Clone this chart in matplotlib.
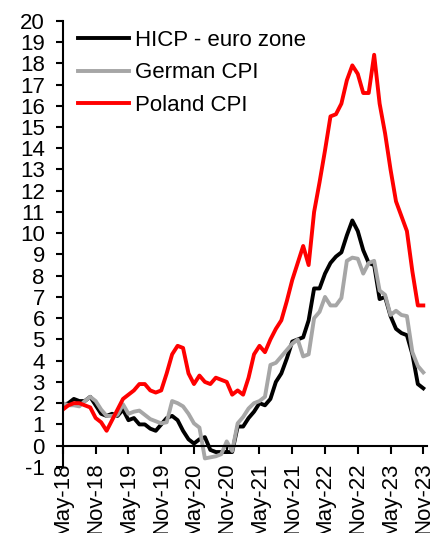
import matplotlib
matplotlib.use("Agg")
import matplotlib.pyplot as plt
import numpy as np

plt.rcParams.update({
    "font.family": ["Liberation Sans", "DejaVu Sans"], "font.size": 16,
    "axes.linewidth": 1.5, "axes.unicode_minus": False,
})

# monthly y/y inflation, May-18 .. Nov-23
hicp = [1.9, 2.0, 2.2, 2.1, 2.1, 2.3, 1.9, 1.5,
        1.4, 1.5, 1.4, 1.7, 1.2, 1.3, 1.0, 1.0, 0.8, 0.7, 1.0, 1.3,
        1.4, 1.2, 0.7, 0.3, 0.1, 0.3, 0.4, -0.2, -0.3, -0.3, -0.3, -0.3,
        0.9, 0.9, 1.3, 1.6, 2.0, 1.9, 2.2, 3.0, 3.4, 4.1, 4.9, 5.0,
        5.1, 5.9, 7.4, 7.4, 8.1, 8.6, 8.9, 9.1, 9.9, 10.6, 10.1, 9.2,
        8.6, 8.5, 6.9, 7.0, 6.1, 5.5, 5.3, 5.2, 4.3, 2.9, 2.7]
german = [2.0, 1.9, 1.9, 1.85, 2.1, 2.3, 2.1, 1.7,
          1.4, 1.4, 1.45, 1.95, 1.5, 1.6, 1.65, 1.45, 1.25, 1.15, 1.05, 1.1,
          2.1, 2.0, 1.85, 1.5, 1.05, 0.85, -0.6, -0.55, -0.5, -0.4, 0.2, -0.25,
          1.05, 1.35, 1.75, 2.0, 2.1, 2.3, 3.8, 3.9, 4.2, 4.5, 4.8, 5.0,
          4.2, 4.3, 6.0, 6.3, 7.0, 6.6, 6.6, 6.95, 8.7, 8.85, 8.8, 8.1,
          8.6, 8.7, 7.3, 7.1, 6.15, 6.35, 6.15, 6.1, 4.4, 3.75, 3.45]
poland = [1.7, 1.9, 2.0, 2.0, 1.9, 1.8, 1.3, 1.1,
          0.7, 1.2, 1.7, 2.2, 2.4, 2.6, 2.9, 2.9, 2.6, 2.5, 2.6, 3.4,
          4.3, 4.7, 4.6, 3.4, 2.9, 3.3, 3.0, 2.9, 3.2, 3.1, 3.0, 2.4,
          2.6, 2.4, 3.2, 4.3, 4.7, 4.4, 5.0, 5.5, 5.9, 6.8, 7.8, 8.6,
          9.4, 8.5, 11.0, 12.4, 13.9, 15.5, 15.6, 16.1, 17.2, 17.9, 17.5, 16.6,
          16.6, 18.4, 16.1, 14.7, 13.0, 11.5, 10.8, 10.1, 8.2, 6.6, 6.6]
tick_labels = ["May-18", "Nov-18", "May-19", "Nov-19", "May-20", "Nov-20",
               "May-21", "Nov-21", "May-22", "Nov-22", "May-23", "Nov-23"]

x = np.arange(len(hicp))

fig = plt.figure(figsize=(4.31, 5.33), dpi=100)
ax = fig.add_axes([0.146, 0.124, 0.845, 0.837])

ax.plot(x, hicp, color="black", lw=2.8, label="HICP - euro zone")
ax.plot(x, german, color="#A6A6A6", lw=2.8, label="German CPI")
ax.plot(x, poland, color="#FF0000", lw=2.8, label="Poland CPI")

ax.set_ylim(-1, 20)
ax.set_yticks(range(-1, 21))
ax.set_xlim(0, 66.7)
ax.set_xticks(np.arange(0, 67, 6))
ax.set_xticklabels(tick_labels)

ax.spines["top"].set_visible(False)
ax.spines["right"].set_visible(False)
ax.spines["bottom"].set_position(("data", 0))
ax.tick_params(axis="y", direction="out", length=5, width=1.5, pad=8)
ax.tick_params(axis="x", direction="out", length=6, width=1.5, pad=6,
               labelrotation=90)
for t in ax.get_xticklabels():
    t.set_va("top")
    t.set_ha("center")

ax.legend(loc="upper left", bbox_to_anchor=(0.03, 0.99), frameon=False,
          handlelength=2.3, handletextpad=0.25, labelspacing=0.53,
          borderaxespad=0, borderpad=0.2)

fig.savefig("out.png", dpi=100)
